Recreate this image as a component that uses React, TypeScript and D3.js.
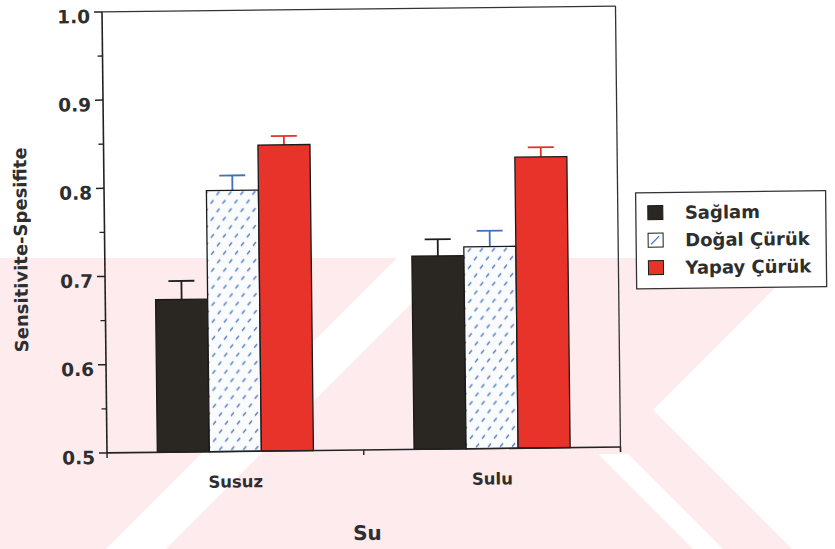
import React from "react";
import * as d3 from "d3";

const categories = ["Susuz", "Sulu"];
const seriesNames = ["Sağlam", "Doğal Çürük", "Yapay Çürük"];
const saglam = [0.673, 0.719];
const dogal = [0.796, 0.729];
const yapay = [0.847, 0.830];
const saglamErr = [0.021, 0.019];
const dogalErr = [0.017, 0.018];
const yapayErr = [0.010, 0.011];
const yTicks = [0.5, 0.6, 0.7, 0.8, 0.9, 1.0];
const yMinorTicks = [0.55, 0.65, 0.75, 0.85, 0.95];
const xTitle = "Su";
const yTitle = "Sensitivite-Spesifite";

const W = 835;
const H = 549;
const M = { left: 104.5, right: 618, top: 9, bottom: 450 };
const FONT = "'DejaVu Sans', sans-serif";
const TEXT = "#2e2e2e";

const fills = ["#2a2622", "url(#hatch)", "#e8332a"];
const errColors = ["#1e1e1e", "#4470b8", "#e2302a"];
const values = [saglam, dogal, yapay];
const errors = [saglamErr, dogalErr, yapayErr];

export default function App() {
  const y = d3.scaleLinear().domain([0.5, 1.0]).range([M.bottom, M.top]);
  const x0 = d3
    .scaleBand<string>()
    .domain(categories)
    .range([M.left, M.right])
    .paddingInner(0.392)
    .paddingOuter(0.196);
  const x1 = d3
    .scaleBand<string>()
    .domain(seriesNames)
    .range([0, x0.bandwidth()]);
  const bw = x1.bandwidth();
  const capHalf = 13;

  const wTop = 258;

  return (
    <svg width={W} height={H} style={{ position: "absolute", left: 0, top: 0 }}>
      <defs>
        <pattern id="hatch" width={12} height={17} patternUnits="userSpaceOnUse">
          <rect width={12} height={17} fill="#fafbfd" />
          <line x1={2} y1={6.5} x2={5} y2={3} stroke="#4a78c0" strokeWidth={1.3} />
          <line x1={8} y1={15} x2={11} y2={11.5} stroke="#4a78c0" strokeWidth={1.3} />
        </pattern>
        <clipPath id="wm">
          <rect x={0} y={wTop} width={W} height={H - wTop} />
        </clipPath>
      </defs>
      <rect width={W} height={H} fill="#ffffff" />
      {/* scan watermark (decorative background) */}
      <g clipPath="url(#wm)">
        <rect x={0} y={wTop} width={W} height={H - wTop} fill="#fdebee" />
        <polygon points="653,410 805,258 835,258 835,549 792,549" fill="#ffffff" />
        <polygon points="598,454 628,454 723,549 693,549" fill="#ffffff" />
        <polygon points="397,258 457,258 166,549 106,549" fill="#ffffff" />
      </g>

      <g transform="rotate(-0.65 360 230)">
        {/* bars */}
        {categories.map((c, ci) => (
          <g key={c} transform={`translate(${x0(c)},0)`}>
            {seriesNames.map((s, si) => {
              const v = values[si][ci];
              const e = errors[si][ci];
              const bx = x1(s)!;
              const cx = bx + bw / 2;
              return (
                <g key={s}>
                  <line x1={cx} x2={cx} y1={y(v)} y2={y(v + e)} stroke={errColors[si]} strokeWidth={1.8} />
                  <line x1={cx - capHalf} x2={cx + capHalf} y1={y(v + e)} y2={y(v + e)} stroke={errColors[si]} strokeWidth={1.8} />
                  <rect x={bx} y={y(v)} width={bw} height={y(0.5) - y(v)} fill={fills[si]} stroke="#1a1a1a" strokeWidth={1.3} />
                </g>
              );
            })}
          </g>
        ))}

        {/* frame */}
        <line x1={M.left} x2={M.right} y1={M.top} y2={M.top} stroke="#333" strokeWidth={1.3} />
        <line x1={M.right} x2={M.right} y1={M.top} y2={M.bottom + 5} stroke="#333" strokeWidth={1.3} />
        <line x1={M.left} x2={M.left} y1={M.top} y2={M.bottom} stroke="#222" strokeWidth={1.6} />
        <line x1={M.left} x2={M.right} y1={M.bottom} y2={M.bottom} stroke="#222" strokeWidth={1.6} />

        {/* y ticks */}
        {yTicks.map((t) => (
          <g key={t}>
            <line x1={M.left - 8} x2={M.left} y1={y(t)} y2={y(t)} stroke="#222" strokeWidth={1.5} />
            <text
              x={M.left - 12}
              y={y(t) + 11}
              textAnchor="end"
              fontFamily={FONT}
              fontWeight="bold"
              fontSize={18.5}
              fill={TEXT}
            >
              {t.toFixed(1)}
            </text>
          </g>
        ))}
        {yMinorTicks.map((t) => (
          <line key={t} x1={M.left - 5} x2={M.left} y1={y(t)} y2={y(t)} stroke="#222" strokeWidth={1.3} />
        ))}

        {/* x ticks */}
        {[M.left, x0.step() + M.left, M.right].map((tx, i) => (
          <line key={i} x1={tx} x2={tx} y1={M.bottom} y2={M.bottom + 5} stroke="#222" strokeWidth={1.4} />
        ))}
        {categories.map((c) => (
          <text
            key={c}
            x={x0(c)! + x0.bandwidth() / 2}
            y={486}
            textAnchor="middle"
            fontFamily={FONT}
            fontWeight="bold"
            fontSize={16.5}
            fill={TEXT}
          >
            {c}
          </text>
        ))}

        {/* axis titles */}
        <text x={364} y={540} textAnchor="middle" fontFamily={FONT} fontWeight="bold" fontSize={20} fill={TEXT}>
          {xTitle}
        </text>
        <text
          transform={`translate(27,246) rotate(-90)`}
          textAnchor="middle"
          fontFamily={FONT}
          fontWeight="bold"
          fontSize={18}
          fill={TEXT}
        >
          {yTitle}
        </text>

        {/* legend */}
        <rect x={636} y={196} width={190} height={96} fill="#fff" stroke="#333" strokeWidth={1.3} />
        {seriesNames.map((s, i) => {
          const cy = 216 + i * 27.5;
          return (
            <g key={s}>
              <rect x={648} y={cy - 7} width={15} height={14} fill={fills[i] === "url(#hatch)" ? "#fff" : fills[i]} stroke="#1a1a1a" strokeWidth={1} />
              {i === 1 && <line x1={651} y1={cy + 4} x2={659} y2={cy - 4} stroke="#4a78c0" strokeWidth={1.3} />}
              <text x={685} y={cy + 6.5} fontFamily={FONT} fontWeight="bold" fontSize={18} fill={TEXT}>
                {s}
              </text>
            </g>
          );
        })}
      </g>
    </svg>
  );
}
